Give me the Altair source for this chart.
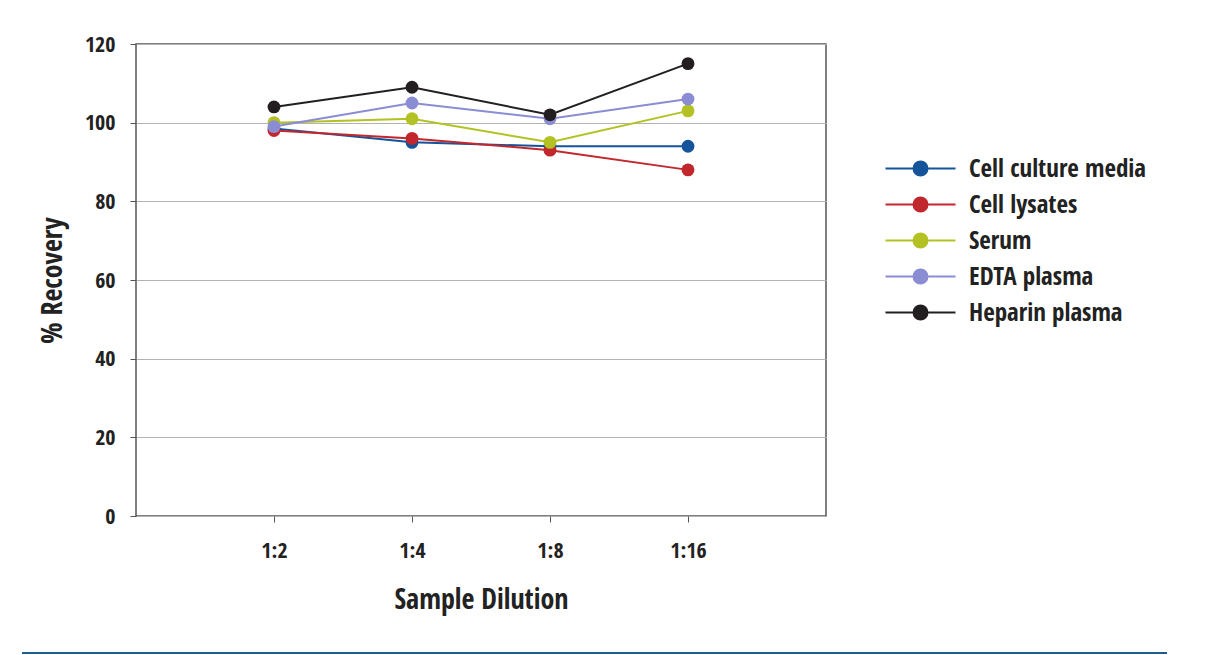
import altair as alt
import pandas as pd

dilutions = ["1:2", "1:4", "1:8", "1:16"]
series_names = ["Cell culture media", "Cell lysates", "Serum", "EDTA plasma", "Heparin plasma"]
cell_culture = [98.5, 95, 94, 94]
cell_lysates = [98, 96, 93, 88]
serum = [100, 101, 95, 103]
edta = [99, 105, 101, 106]
heparin = [104, 109, 102, 115]
colors = ["#15549a", "#c1272d", "#b3c222", "#8b8dd4", "#231f20"]
y_ticks = [0, 20, 40, 60, 80, 100, 120]

rows = []
for name, vals in zip(series_names, [cell_culture, cell_lysates, serum, edta, heparin]):
    for d, v in zip(dilutions, vals):
        rows.append({"Series": name, "Dilution": d, "Recovery": v, "order": series_names.index(name)})
df = pd.DataFrame(rows)

FONT = "Open Sans Condensed, Roboto Condensed, DejaVu Sans Condensed, sans-serif"
LEGEND_SYMBOL = "M-5,0L5,0M-1,0A1,1,0,1,0,1,0A1,1,0,1,0,-1,0Z"

x_enc = alt.X("Dilution:N", sort=dilutions,
              scale=alt.Scale(type="point", padding=1),
              axis=alt.Axis(title="Sample Dilution", labelAngle=0, labelFontSize=22,
                            labelFontWeight="bold", labelColor="#222", labelPadding=18,
                            tickSize=6, tickColor="#555", domain=False, grid=False,
                            titleFontSize=28, titleFontWeight="bold", titleColor="#222",
                            titlePadding=25))
y_enc = alt.Y("Recovery:Q",
              scale=alt.Scale(domain=[0, 120], nice=False),
              axis=alt.Axis(title="% Recovery", values=y_ticks, labelFontSize=22,
                            labelFontWeight="bold", labelColor="#222", labelPadding=15,
                            tickSize=6, tickColor="#555", domain=False,
                            grid=True, gridColor="#b3b3b3", gridWidth=1.2,
                            titleFontSize=28, titleFontWeight="bold", titleColor="#222",
                            titlePadding=17))
color_enc = alt.Color("Series:N", sort=series_names,
                      scale=alt.Scale(domain=series_names, range=colors),
                      legend=alt.Legend(title=None, orient="none", legendX=772, legendY=112,
                                        symbolType=LEGEND_SYMBOL, symbolSize=196,
                                        symbolStrokeWidth=2, labelFontSize=25,
                                        labelFontWeight="bold", labelColor="#222",
                                        labelOffset=36, rowPadding=10, padding=0,
                                        labelLimit=300))

lines = alt.Chart(df).mark_line(strokeWidth=2, point=alt.OverlayMarkDef(filled=True, size=165)).encode(
    x=x_enc, y=y_enc, color=color_enc, order=alt.Order("order:Q")
)

bottom_rule = alt.Chart(pd.DataFrame({"k": [0]})).mark_rule(color="#1d5e8e", strokeWidth=2).encode(
    x=alt.value(-114), x2=alt.value(1031), y=alt.value(609)
)

chart = alt.layer(lines, bottom_rule).properties(
    width=690, height=472,
    autosize=alt.AutoSizeParams(type="none"),
    padding={"left": 128, "top": 36, "right": 382, "bottom": 139},
).configure(font=FONT).configure_view(stroke="#555", strokeWidth=1.5)

chart.save("out.html", embed_options={"renderer": "svg", "actions": False})
